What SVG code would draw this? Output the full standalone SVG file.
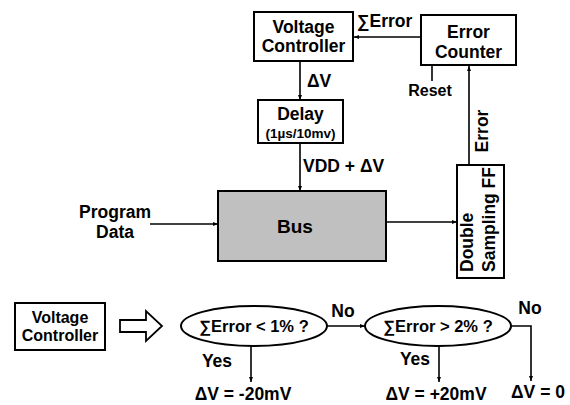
<svg xmlns="http://www.w3.org/2000/svg" width="570" height="405" viewBox="0 0 570 405">
<defs>
<style>
text{font-family:"Liberation Sans",Arial,sans-serif;font-weight:bold;fill:#000}
.box{fill:#fff;stroke:#000;stroke-width:2}
.c{text-anchor:middle}
.f17{font-size:17.5px}
.f16{font-size:16px}
.line{fill:none;stroke:#000;stroke-width:1.6}
</style>
<marker id="ah" viewBox="0 0 10 10" refX="10" refY="5" markerWidth="5" markerHeight="5" markerUnits="userSpaceOnUse" orient="auto">
<path d="M0,1 L10,5 L0,9 Z" fill="#000"/>
</marker>
</defs>
<rect width="570" height="405" fill="#fff"/>

<g id="connectors">
<line class="line" x1="421" y1="37" x2="354" y2="37" marker-end="url(#ah)"/>
<line class="line" x1="300" y1="62" x2="300" y2="100" marker-end="url(#ah)"/>
<line class="line" x1="300" y1="144" x2="300" y2="191" marker-end="url(#ah)"/>
<line class="line" x1="150" y1="224" x2="218" y2="224" marker-end="url(#ah)"/>
<line class="line" x1="387" y1="222" x2="457" y2="222" marker-end="url(#ah)"/>
<line class="line" x1="469" y1="165" x2="469" y2="66" marker-end="url(#ah)"/>
<line class="line" x1="432" y1="66" x2="432" y2="81"/>
<line class="line" x1="327" y1="326" x2="365" y2="326" marker-end="url(#ah)"/>
<line class="line" x1="251" y1="346" x2="251" y2="382" marker-end="url(#ah)"/>
<line class="line" x1="439" y1="346" x2="439" y2="382" marker-end="url(#ah)"/>
<path class="line" d="M511,326 H531 V381" marker-end="url(#ah)"/>
<text class="f17" x="357" y="27">∑Error</text>
<text class="f17" x="307" y="87">ΔV</text>
<text class="f17" x="303" y="172">VDD + ΔV</text>
<text class="f16 c" x="430" y="96">Reset</text>
<text class="f17" transform="translate(488,131) rotate(-90)" text-anchor="middle">Error</text>
<text class="f17 c" x="343" y="317">No</text>
<text class="f17 c" x="530" y="314">No</text>
<text class="f17 c" x="217" y="367">Yes</text>
<text class="f17 c" x="415" y="365">Yes</text>
</g>

<g id="voltage-controller">
<rect class="box" x="254" y="12" width="99" height="49"/>
<text class="f17 c" x="303.5" y="33">Voltage</text>
<text class="f17 c" x="303.5" y="52">Controller</text>
</g>

<g id="error-counter">
<rect class="box" x="421" y="15" width="95" height="50"/>
<text class="f17 c" x="468.5" y="38">Error</text>
<text class="f17 c" x="468.5" y="58">Counter</text>
</g>

<g id="delay">
<rect class="box" x="258" y="100" width="85" height="43"/>
<text class="f17 c" x="300.5" y="120">Delay</text>
<text class="c" style="font-size:13.5px" x="300.5" y="138">(1µs/10mv)</text>
</g>

<g id="program-data">
<text class="f17 c" x="115" y="218">Program</text>
<text class="f17 c" x="115" y="238">Data</text>
</g>

<g id="bus">
<rect x="218" y="191" width="168" height="70" fill="#c0c0c0" stroke="#000" stroke-width="2"/>
<text class="c" style="font-size:19px" x="295" y="233">Bus</text>
</g>

<g id="double-sampling-ff">
<rect class="box" x="457" y="165" width="47" height="113"/>
<text class="f17" transform="translate(473,272) rotate(-90)">Double</text>
<text class="f17" transform="translate(495,272) rotate(-90)">Sampling FF</text>
</g>

<g id="voltage-controller-2">
<rect class="box" x="15" y="303" width="90" height="47"/>
<text class="f16 c" x="60" y="323">Voltage</text>
<text class="f16 c" x="60" y="341">Controller</text>
</g>

<g id="block-arrow">
<polygon points="120,320 146,320 146,311 162,326 146,341 146,332 120,332" fill="#fff" stroke="#000" stroke-width="1.8"/>
</g>

<g id="decision-1">
<ellipse cx="254" cy="326" rx="73" ry="20" fill="#fff" stroke="#000" stroke-width="2"/>
<text class="c" style="font-size:16.5px" x="254" y="332">∑Error &lt; 1% ?</text>
</g>

<g id="decision-2">
<ellipse cx="438" cy="326" rx="73" ry="20" fill="#fff" stroke="#000" stroke-width="2"/>
<text class="c" style="font-size:16.5px" x="438" y="332">∑Error &gt; 2% ?</text>
</g>

<g id="results">
<text class="f17 c" x="243" y="400">ΔV = -20mV</text>
<text class="f17 c" x="436" y="400">ΔV = +20mV</text>
<text class="f17 c" x="538" y="398">ΔV = 0</text>
</g>
</svg>
